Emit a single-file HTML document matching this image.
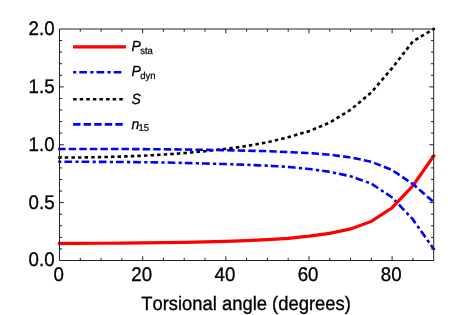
<!DOCTYPE html>
<html><head><meta charset="utf-8"><title>plot</title>
<style>html,body{margin:0;padding:0;background:#fff;}svg{display:block;}text{font-family:"Liberation Sans",sans-serif;fill:#000;stroke:#000;stroke-width:0.3px;text-rendering:geometricPrecision;font-kerning:none;}svg{will-change:transform;}</style></head><body>
<svg width="463" height="315" viewBox="0 0 463 315">
<rect width="463" height="315" fill="#fff"/>
<g fill="none" stroke-linecap="square" stroke-linejoin="miter">
<path d="M59.50,161.77 L80.29,161.77 L101.08,161.88 L121.87,162.00 L142.66,162.23 L163.44,162.46 L184.23,162.92 L205.02,163.50 L225.81,164.08 L246.60,164.77 L267.39,165.70 L288.18,166.86 L308.97,168.94 L329.76,171.84 L350.54,176.23 L371.33,183.64 L392.12,197.42 L412.91,219.41 L433.70,249.04" stroke="#0000ff" stroke-width="2.6" stroke-dasharray="0.6 5.62 5.07 5.91"/>
<path d="M59.50,243.37 L80.29,243.37 L101.08,243.25 L121.87,243.14 L142.66,242.91 L163.44,242.67 L184.23,242.33 L205.02,241.86 L225.81,241.40 L246.60,240.59 L267.39,239.55 L288.18,238.28 L308.97,236.19 L329.76,233.30 L350.54,228.90 L371.33,221.38 L392.12,207.72 L412.91,185.73 L433.70,155.98" stroke="#ff0000" stroke-width="3.2"/>
<path d="M59.50,157.60 L80.29,157.48 L101.08,157.14 L121.87,156.56 L142.66,155.75 L163.44,154.59 L184.23,153.08 L205.02,151.23 L225.81,148.92 L246.60,146.02 L267.39,142.32 L288.18,137.23 L308.97,131.21 L329.76,122.53 L350.54,109.79 L371.33,92.43 L392.12,68.12 L412.91,41.39 L433.70,29.00" stroke="#000" stroke-width="2.6" stroke-dasharray="0.9 5.695"/>
<path d="M59.50,149.03 L80.29,149.03 L101.08,149.03 L121.87,149.03 L142.66,149.15 L163.44,149.26 L184.23,149.50 L205.02,149.84 L225.81,150.19 L246.60,150.65 L267.39,151.12 L288.18,152.04 L308.97,153.08 L329.76,154.70 L350.54,157.48 L371.33,161.77 L392.12,170.10 L412.91,184.10 L433.70,202.05" stroke="#0000ff" stroke-width="2.6" stroke-dasharray="4.8 5.76"/>
</g>
<g fill="none" stroke-linecap="square">
<path d="M74.6,46.9 L124.30000000000001,46.9" stroke="#ff0000" stroke-width="3.2"/>
<path d="M74.4,72.2 L124.4,72.2" stroke="#0000ff" stroke-width="2.6" stroke-dasharray="0.6 5.62 5.07 5.91"/>
<path d="M74.4,99.3 L124.4,99.3" stroke="#000" stroke-width="2.6" stroke-dasharray="0.9 5.695"/>
<path d="M74.4,124.4 L124.4,124.4" stroke="#0000ff" stroke-width="2.6" stroke-dasharray="4.8 5.76"/>
</g>
<text transform="translate(131.6,51.0) scale(1,1.045)" font-size="14" font-style="italic" stroke-width="0.12">P<tspan font-size="9.5" font-style="normal" stroke-width="0.22" dy="2.7" dx="-0.8">sta</tspan></text>
<text transform="translate(131.6,76.0) scale(1,1.045)" font-size="14" font-style="italic" stroke-width="0.12">P<tspan font-size="9.5" font-style="normal" stroke-width="0.22" dy="2.7" dx="-0.8">dyn</tspan></text>
<text transform="translate(131.6,103.6) scale(1,1.045)" font-size="14" font-style="italic" stroke-width="0.12">S</text>
<text transform="translate(131.6,128.5) scale(1,1.045)" font-size="14" font-style="italic" stroke-width="0.12">n<tspan font-size="9.5" font-style="normal" stroke-width="0.22" dy="2.7" dx="-0.8">15</tspan></text>
<g stroke="#222" stroke-width="1" fill="none">
<path d="M59.5,29.0 H433.7 V260.5 H59.5 Z"/>
</g>
<path d="M80.29,260.5 v-2.7 M80.29,29.0 v2.7 M101.08,260.5 v-2.7 M101.08,29.0 v2.7 M121.87,260.5 v-2.7 M121.87,29.0 v2.7 M142.66,260.5 v-4.3 M142.66,29.0 v4.3 M163.44,260.5 v-2.7 M163.44,29.0 v2.7 M184.23,260.5 v-2.7 M184.23,29.0 v2.7 M205.02,260.5 v-2.7 M205.02,29.0 v2.7 M225.81,260.5 v-4.3 M225.81,29.0 v4.3 M246.60,260.5 v-2.7 M246.60,29.0 v2.7 M267.39,260.5 v-2.7 M267.39,29.0 v2.7 M288.18,260.5 v-2.7 M288.18,29.0 v2.7 M308.97,260.5 v-4.3 M308.97,29.0 v4.3 M329.76,260.5 v-2.7 M329.76,29.0 v2.7 M350.54,260.5 v-2.7 M350.54,29.0 v2.7 M371.33,260.5 v-2.7 M371.33,29.0 v2.7 M392.12,260.5 v-4.3 M392.12,29.0 v4.3 M412.91,260.5 v-2.7 M412.91,29.0 v2.7 M59.5,248.93 h2.7 M433.7,248.93 h-2.7 M59.5,237.35 h2.7 M433.7,237.35 h-2.7 M59.5,225.77 h2.7 M433.7,225.77 h-2.7 M59.5,214.20 h2.7 M433.7,214.20 h-2.7 M59.5,202.62 h4.3 M433.7,202.62 h-4.3 M59.5,191.05 h2.7 M433.7,191.05 h-2.7 M59.5,179.47 h2.7 M433.7,179.47 h-2.7 M59.5,167.90 h2.7 M433.7,167.90 h-2.7 M59.5,156.32 h2.7 M433.7,156.32 h-2.7 M59.5,144.75 h4.3 M433.7,144.75 h-4.3 M59.5,133.17 h2.7 M433.7,133.17 h-2.7 M59.5,121.60 h2.7 M433.7,121.60 h-2.7 M59.5,110.03 h2.7 M433.7,110.03 h-2.7 M59.5,98.45 h2.7 M433.7,98.45 h-2.7 M59.5,86.88 h4.3 M433.7,86.88 h-4.3 M59.5,75.30 h2.7 M433.7,75.30 h-2.7 M59.5,63.72 h2.7 M433.7,63.72 h-2.7 M59.5,52.15 h2.7 M433.7,52.15 h-2.7 M59.5,40.57 h2.7 M433.7,40.57 h-2.7" stroke="#222" stroke-width="1" fill="none"/>
<text transform="translate(54.6,266.40) scale(1,1.055)" font-size="18.7" text-anchor="end">0.0</text>
<text transform="translate(54.6,208.53) scale(1,1.055)" font-size="18.7" text-anchor="end">0.5</text>
<text transform="translate(54.6,150.65) scale(1,1.055)" font-size="18.7" text-anchor="end">1.0</text>
<text transform="translate(54.6,92.78) scale(1,1.055)" font-size="18.7" text-anchor="end">1.5</text>
<text transform="translate(54.6,34.90) scale(1,1.055)" font-size="18.7" text-anchor="end">2.0</text>
<text transform="translate(58.60,280.8) scale(1,1.055)" font-size="18.7" text-anchor="middle">0</text>
<text transform="translate(141.76,280.8) scale(1,1.055)" font-size="18.7" text-anchor="middle">20</text>
<text transform="translate(224.91,280.8) scale(1,1.055)" font-size="18.7" text-anchor="middle">40</text>
<text transform="translate(308.07,280.8) scale(1,1.055)" font-size="18.7" text-anchor="middle">60</text>
<text transform="translate(391.22,280.8) scale(1,1.055)" font-size="18.7" text-anchor="middle">80</text>
<text transform="translate(246.0,310.1) scale(1,1.055)" font-size="18.4" text-anchor="middle">Torsional angle (degrees)</text>
</svg></body></html>
